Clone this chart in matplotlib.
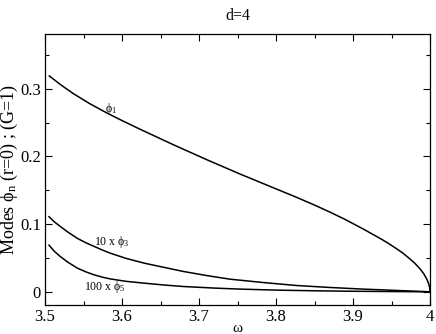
import matplotlib
matplotlib.use("Agg")
import matplotlib.pyplot as plt
from matplotlib.ticker import MultipleLocator

plt.rcParams['font.family'] = ['Liberation Serif', 'DejaVu Serif']
plt.rcParams['mathtext.fontset'] = 'custom'
plt.rcParams['mathtext.rm'] = 'Liberation Serif'
plt.rcParams['mathtext.it'] = 'Liberation Serif:italic'

# values
w_phi1 = [3.5056, 3.52, 3.5368, 3.558, 3.580, 3.600, 3.623, 3.667, 3.710, 3.753, 3.7835,
          3.827, 3.850, 3.870, 3.890, 3.913, 3.935, 3.946, 3.957, 3.965, 3.974, 3.980,
          3.987, 3.992, 3.9957, 3.998, 3.9995, 4.0]
phi1 = [0.319, 0.3063, 0.2929, 0.2781, 0.2645, 0.2531, 0.2405, 0.2172, 0.1953, 0.1742, 0.1599,
        0.1395, 0.1282, 0.1178, 0.1068, 0.093, 0.079, 0.0716, 0.0633, 0.057, 0.0485, 0.0425,
        0.034, 0.0265, 0.019, 0.013, 0.0065, 0.0]

w_phi3 = [3.5052, 3.512, 3.520, 3.530, 3.542, 3.553, 3.564, 3.575, 3.585, 3.605, 3.6286,
          3.655, 3.680, 3.710, 3.740, 3.7835, 3.827, 3.870, 3.913, 3.957, 4.0]
phi3x10 = [0.111, 0.1035, 0.0965, 0.088, 0.079, 0.0725, 0.067, 0.0615, 0.057, 0.0495, 0.0424,
           0.036, 0.030, 0.024, 0.0187, 0.0137, 0.0093, 0.0064, 0.004, 0.002, 0.0]

w_phi5 = [3.5052, 3.512, 3.520, 3.530, 3.542, 3.553, 3.564, 3.575, 3.585, 3.605, 3.6286,
          3.655, 3.680, 3.720, 3.753, 3.80, 3.85, 3.90, 3.95, 4.0]
phi5x100 = [0.069, 0.060, 0.052, 0.0435, 0.035, 0.0295, 0.025, 0.0215, 0.019, 0.0155, 0.0128,
            0.010, 0.0078, 0.0055, 0.004, 0.0025, 0.0015, 0.0008, 0.0004, 0.0]

fig = plt.figure(figsize=(4.36, 3.34), dpi=100)
ax = fig.add_axes([45/436, 1-305/334, 385/436, 271/334])

ax.plot(w_phi1, phi1, color='black', lw=1.1)
ax.plot(w_phi3, phi3x10, color='black', lw=1.1)
ax.plot(w_phi5, phi5x100, color='black', lw=1.1)

ax.text(3.578, 0.270, r'ϕ$_\mathrm{1}$', fontsize=8.5, va='center')
ax.text(3.5636, 0.074, r'10 x ϕ$_\mathrm{3}$', fontsize=8.5, va='center')
ax.text(3.5506, 0.0074, r'100 x ϕ$_\mathrm{5}$', fontsize=8.5, va='center')

ax.set_xlim(3.5, 4.0)
ax.set_ylim(-0.0195, 0.381)
ax.xaxis.set_minor_locator(MultipleLocator(0.05))
ax.yaxis.set_minor_locator(MultipleLocator(0.05))
ax.set_xticks([3.5, 3.6, 3.7, 3.8, 3.9, 4.0])
ax.set_xticklabels(['3.5', '3.6', '3.7', '3.8', '3.9', '4'])
ax.set_yticks([0, 0.1, 0.2, 0.3])
ax.set_yticklabels(['0', '0.1', '0.2', '0.3'])
ax.tick_params(which='both', direction='in', top=True, right=True, labelsize=12)
ax.tick_params(which='major', length=5, width=0.8, pad=3)
ax.tick_params(which='minor', length=3, width=0.8)
for s in ax.spines.values():
    s.set_linewidth(0.9)

ax.set_xlabel('ω', fontsize=11)
ax.xaxis.set_label_coords(0.5, -0.0996)
ax.xaxis.label.set_va('baseline')
ax.set_ylabel(r'Modes ϕ$_\mathrm{n}$ (r=0) ; (G=1)', fontsize=13)
ax.yaxis.set_label_coords(-0.093, 0.5)
ax.yaxis.label.set_va('center')
ax.set_title('d=4', fontsize=11.5, pad=10)

fig.savefig('out.png', dpi=100)
